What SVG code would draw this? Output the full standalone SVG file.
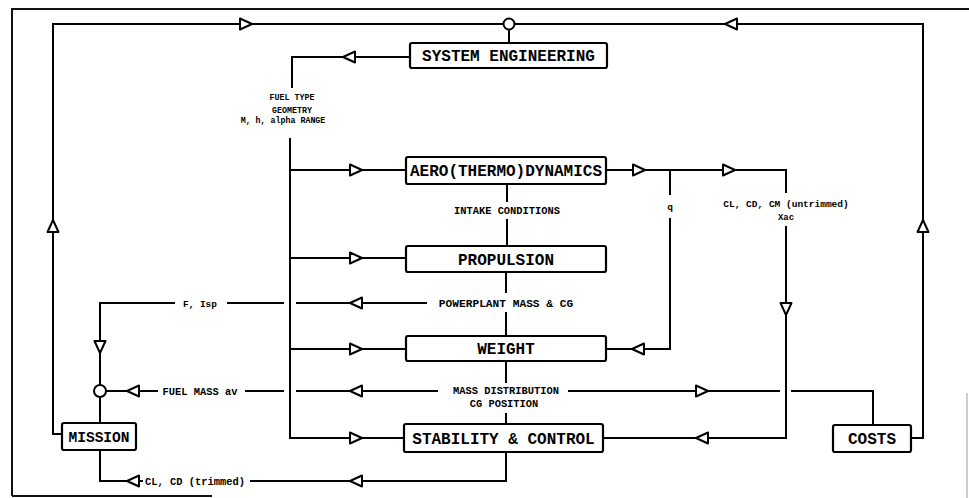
<svg xmlns="http://www.w3.org/2000/svg" xmlns:xlink="http://www.w3.org/1999/xlink" width="969" height="498" viewBox="0 0 969 498">
<style>
.ln{fill:none;stroke:#000;stroke-width:2;stroke-linejoin:miter}
.fr{fill:none;stroke:#111;stroke-width:2}
.box{fill:#fff;stroke:#000;stroke-width:2.2}
.ah{fill:#fff;stroke:#000;stroke-width:2;stroke-linejoin:round}
.bt{font-family:"Liberation Mono","DejaVu Sans Mono",monospace;font-weight:bold;font-size:16px;fill:#000;text-anchor:middle}
.lb{font-family:"Liberation Mono","DejaVu Sans Mono",monospace;font-weight:bold;font-size:10.4px;fill:#000;text-anchor:middle}
.sm{font-size:8.3px}
</style>
<defs>
<polygon id="ar" class="ah" points="-12,-5.5 0,0 -12,5.5"/>
</defs>
<rect width="969" height="498" fill="#fff"/>
<g id="frame">
<path class="fr" d="M12,496 V9 H969"/>
<path class="fr" d="M12,496 H212"/>
<path d="M967,393 V498" stroke="#bbb" stroke-width="1.5" fill="none"/>
</g>
<g id="connectors">
<!-- outer loops -->
<path class="ln" d="M62,434 H53 V24 H503.5"/>
<path class="ln" d="M514.5,24 H923 V438 H911"/>
<circle cx="509" cy="24" r="5.5" fill="#fff" stroke="#000" stroke-width="2"/>
<path class="ln" d="M509,29.5 V43"/>
<!-- SE to main bus -->
<path class="ln" d="M410,57 H292 V88"/>
<path class="ln" d="M290,138 V438 H404"/>
<path class="ln" d="M290,170 H406"/>
<path class="ln" d="M290,258 H406"/>
<path class="ln" d="M290,349 H406"/>
<!-- vertical links between boxes -->
<path class="ln" d="M507,184 V202"/>
<path class="ln" d="M507,219 V246"/>
<path class="ln" d="M506,272 V293"/>
<path class="ln" d="M506,312 V336"/>
<path class="ln" d="M506,361 V383"/>
<path class="ln" d="M506,413 V424"/>
<!-- powerplant / F Isp row -->
<path class="ln" d="M427,303 H296"/>
<path class="ln" d="M284,303 H227"/>
<path class="ln" d="M175,303 H100 V385"/>
<circle cx="100" cy="391" r="6" fill="#fff" stroke="#000" stroke-width="2"/>
<path class="ln" d="M100,397 V423"/>
<!-- mass row -->
<path class="ln" d="M438,391 H296"/>
<path class="ln" d="M284,391 H245"/>
<path class="ln" d="M158,391 H106"/>
<path class="ln" d="M568,391 H780"/>
<path class="ln" d="M791,391 H873 V425"/>
<!-- bottom row -->
<path class="ln" d="M506,452 V481 H250"/>
<path class="ln" d="M143,481 H100 V450"/>
<!-- right side -->
<path class="ln" d="M606,170 H786 V193"/>
<path class="ln" d="M786,226 V438 H603"/>
<path class="ln" d="M670,170 V195"/>
<path class="ln" d="M670,218 V349 H606"/>
<!-- arrowheads -->
<use xlink:href="#ar" transform="translate(252,24)"/>
<use xlink:href="#ar" transform="translate(725,24) rotate(180)"/>
<use xlink:href="#ar" transform="translate(343,57) rotate(180)"/>
<use xlink:href="#ar" transform="translate(362,170)"/>
<use xlink:href="#ar" transform="translate(362,258)"/>
<use xlink:href="#ar" transform="translate(350,303) rotate(180)"/>
<use xlink:href="#ar" transform="translate(362,349)"/>
<use xlink:href="#ar" transform="translate(350,391) rotate(180)"/>
<use xlink:href="#ar" transform="translate(362,438)"/>
<use xlink:href="#ar" transform="translate(350,481) rotate(180)"/>
<use xlink:href="#ar" transform="translate(100,353) rotate(90)"/>
<use xlink:href="#ar" transform="translate(127,391) rotate(180)"/>
<use xlink:href="#ar" transform="translate(127,481) rotate(180)"/>
<use xlink:href="#ar" transform="translate(53,220) rotate(-90)"/>
<use xlink:href="#ar" transform="translate(645,170)"/>
<use xlink:href="#ar" transform="translate(735,170)"/>
<use xlink:href="#ar" transform="translate(786,315) rotate(90)"/>
<use xlink:href="#ar" transform="translate(632,349) rotate(180)"/>
<use xlink:href="#ar" transform="translate(708,391)"/>
<use xlink:href="#ar" transform="translate(696,438) rotate(180)"/>
<use xlink:href="#ar" transform="translate(923,220) rotate(-90)"/>
<!-- connector labels -->
<text class="lb sm" x="292" y="100">FUEL TYPE</text>
<text class="lb sm" x="292" y="113">GEOMETRY</text>
<text class="lb sm" x="283" y="123">M, h, alpha RANGE</text>
<text class="lb" x="507" y="213.5">INTAKE CONDITIONS</text>
<text class="lb" x="506" y="306.5" style="font-size:11.2px">POWERPLANT MASS &amp; CG</text>
<text class="lb" x="200" y="306.5" style="font-size:9.4px">F, Isp</text>
<text class="lb" x="200" y="394.5">FUEL MASS av</text>
<text class="lb" x="506" y="394">MASS DISTRIBUTION</text>
<text class="lb" x="504" y="407">CG POSITION</text>
<text class="lb" x="195" y="484.5">CL, CD (trimmed)</text>
<text class="lb" x="670" y="210" style="font-size:9.5px">q</text>
<text class="lb" x="786" y="207" style="font-size:9.5px">CL, CD, CM (untrimmed)</text>
<text class="lb" x="786" y="220" style="font-size:9px">Xac</text>
</g>
<g id="system-engineering">
<rect class="box" x="410" y="43" width="197" height="25" rx="2"/>
<text class="bt" x="508.5" y="61">SYSTEM ENGINEERING</text>
</g>
<g id="aerothermodynamics">
<rect class="box" x="406" y="157" width="200" height="27" rx="2"/>
<text class="bt" x="506" y="176">AERO(THERMO)DYNAMICS</text>
</g>
<g id="propulsion">
<rect class="box" x="406" y="246" width="200" height="26" rx="2"/>
<text class="bt" x="506" y="264.5">PROPULSION</text>
</g>
<g id="weight">
<rect class="box" x="406" y="336" width="200" height="25" rx="2"/>
<text class="bt" x="506" y="354">WEIGHT</text>
</g>
<g id="stability-control">
<rect class="box" x="404" y="424" width="199" height="28" rx="2"/>
<text class="bt" x="503.5" y="443.5">STABILITY &amp; CONTROL</text>
</g>
<g id="mission">
<rect class="box" x="62" y="423" width="74" height="27" rx="2"/>
<text class="bt" x="99" y="441.5" style="font-size:14.5px">MISSION</text>
</g>
<g id="costs">
<rect class="box" x="833" y="425" width="78" height="27" rx="2"/>
<text class="bt" x="872" y="444">COSTS</text>
</g>
</svg>
